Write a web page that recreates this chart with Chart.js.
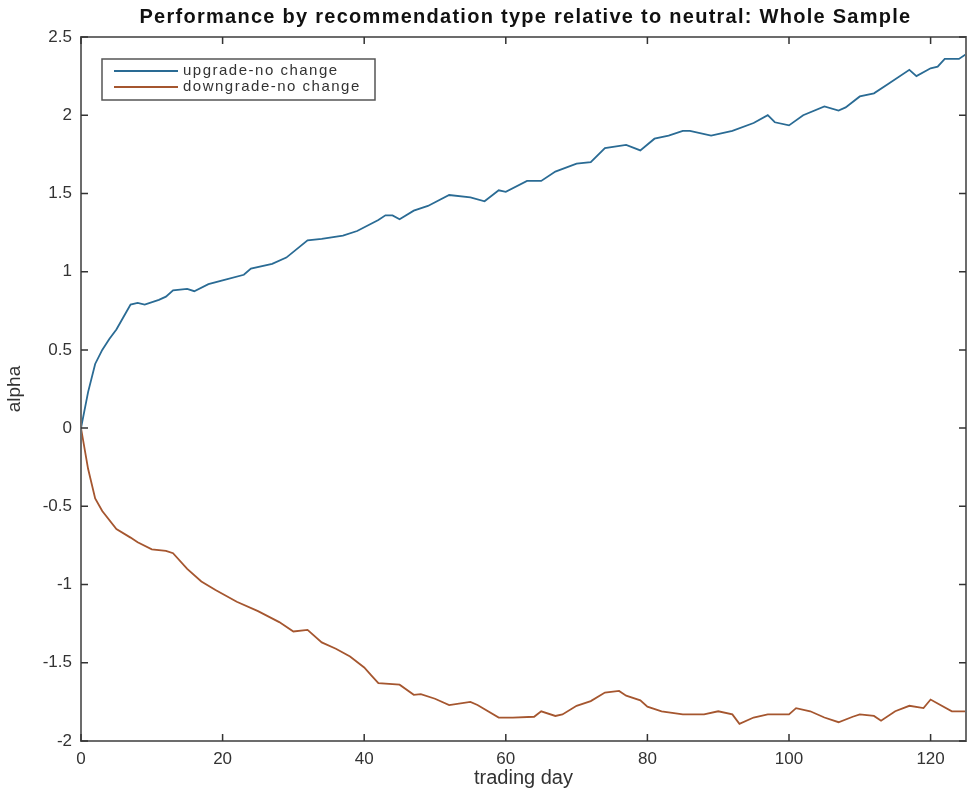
<!DOCTYPE html>
<html>
<head>
<meta charset="utf-8">
<script src="https://cdn.jsdelivr.net/npm/chart.js@4.4.1/dist/chart.umd.min.js"></script>
<style>
  html, body { margin: 0; padding: 0; background: #fff; }
</style>
</head>
<body>
<canvas id="chart" width="967" height="797"></canvas>
<script>
// values
const upDays = [0, 1, 2, 3, 4, 5, 6, 7, 8, 9, 11, 12, 13, 15, 16, 18, 20, 23, 24, 27, 29, 32, 34, 37, 39, 42, 43, 44, 45, 47, 49, 52, 55, 57, 59, 60, 63, 65, 67, 70, 72, 74, 77, 79, 81, 83, 85, 86, 89, 92, 95, 97, 98, 100, 102, 105, 107, 108, 110, 112, 114, 117, 118, 120, 121, 122, 124, 125];
const upAlpha = [0, 0.23, 0.41, 0.50, 0.57, 0.63, 0.71, 0.79, 0.80, 0.79, 0.82, 0.84, 0.88, 0.89, 0.875, 0.92, 0.945, 0.98, 1.02, 1.05, 1.09, 1.20, 1.21, 1.23, 1.26, 1.33, 1.36, 1.36, 1.335, 1.39, 1.42, 1.49, 1.475, 1.45, 1.52, 1.51, 1.58, 1.58, 1.64, 1.69, 1.70, 1.79, 1.81, 1.775, 1.85, 1.87, 1.90, 1.90, 1.87, 1.90, 1.95, 2.00, 1.955, 1.935, 2.00, 2.056, 2.03, 2.05, 2.12, 2.14, 2.20, 2.29, 2.25, 2.30, 2.31, 2.36, 2.36, 2.39];

const downDays = [0, 1, 2, 3, 5, 7, 8, 10, 12, 13, 15, 17, 19, 22, 25, 28, 30, 32, 34, 36, 38, 40, 41, 42, 45, 47, 48, 50, 52, 55, 56, 59, 61, 64, 65, 67, 68, 70, 72, 74, 76, 77, 79, 80, 82, 85, 88, 90, 92, 93, 95, 97, 100, 101, 103, 105, 107, 109, 110, 112, 113, 115, 117, 119, 120, 121, 123, 125];
const downAlpha = [0, -0.26, -0.45, -0.53, -0.645, -0.70, -0.73, -0.775, -0.785, -0.80, -0.90, -0.98, -1.035, -1.11, -1.17, -1.24, -1.30, -1.29, -1.37, -1.41, -1.46, -1.53, -1.58, -1.63, -1.64, -1.705, -1.70, -1.73, -1.77, -1.75, -1.77, -1.85, -1.85, -1.845, -1.81, -1.84, -1.83, -1.775, -1.745, -1.69, -1.68, -1.71, -1.74, -1.78, -1.81, -1.83, -1.83, -1.81, -1.83, -1.89, -1.85, -1.83, -1.83, -1.79, -1.81, -1.85, -1.88, -1.845, -1.83, -1.84, -1.87, -1.81, -1.775, -1.79, -1.735, -1.76, -1.81, -1.81];

const seriesNames = ['upgrade-no change', 'downgrade-no change'];
const xTicks = [0, 20, 40, 60, 80, 100, 120];
const yTicks = [-2, -1.5, -1, -0.5, 0, 0.5, 1, 1.5, 2, 2.5];
const chartTitle = 'Performance by recommendation type relative to neutral: Whole Sample';

const FONT = '"Liberation Sans", Arial, Helvetica, sans-serif';

function toPoints(xs, ys) {
    return xs.map((d, i) => ({ x: d, y: ys[i] }));
}

// title, box round the plot, inward ticks (matlab style) and the legend
const framePlugin = {
    id: 'frame',
    afterDatasetsDraw(chart) {
        const ctx = chart.ctx;
        const a = chart.chartArea;
        const xs = chart.scales.x, ys = chart.scales.y;
        ctx.save();
        ctx.strokeStyle = '#6c6c6c';
        ctx.lineWidth = 2;
        ctx.strokeRect(a.left, a.top, a.right - a.left, a.bottom - a.top);
        ctx.beginPath();
        xTicks.forEach(v => {
            const px = xs.getPixelForValue(v);
            ctx.moveTo(px, a.bottom); ctx.lineTo(px, a.bottom - 7);
            ctx.moveTo(px, a.top); ctx.lineTo(px, a.top + 7);
        });
        yTicks.forEach(v => {
            const py = ys.getPixelForValue(v);
            ctx.moveTo(a.left, py); ctx.lineTo(a.left + 7, py);
            ctx.moveTo(a.right, py); ctx.lineTo(a.right - 7, py);
        });
        ctx.strokeStyle = '#333';
        ctx.lineWidth = 1.5;
        ctx.stroke();

        // title, stretched a bit like the matlab render
        ctx.font = 'bold 20px ' + FONT;
        ctx.fillStyle = '#111';
        ctx.textAlign = 'center';
        ctx.textBaseline = 'middle';
        const w = ctx.measureText(chartTitle).width;
        ctx.letterSpacing = Math.max(0, (772 - w) / chartTitle.length) + 'px';
        ctx.fillText(chartTitle, (a.left + a.right) / 2 + 2, 17);
        ctx.letterSpacing = '0px';

        // legend
        const lx = a.left + 21, ly = a.top + 22;
        ctx.textAlign = 'left';
        ctx.fillStyle = '#fff';
        ctx.fillRect(lx, ly, 273, 41);
        ctx.strokeStyle = '#555';
        ctx.lineWidth = 1.5;
        ctx.strokeRect(lx, ly, 273, 41);
        ctx.font = '15px ' + FONT;
        ctx.letterSpacing = '1.5px';
        chart.data.datasets.forEach((ds, i) => {
            const yy = ly + 12 + i * 16;
            ctx.beginPath();
            ctx.strokeStyle = ds.borderColor;
            ctx.lineWidth = 2;
            ctx.moveTo(lx + 12, yy);
            ctx.lineTo(lx + 76, yy);
            ctx.stroke();
            ctx.fillStyle = '#333';
            ctx.fillText(ds.label, lx + 81, yy);
        });
        ctx.restore();
    }
};

new Chart(document.getElementById('chart'), {
    type: 'line',
    data: {
        datasets: [{
            label: seriesNames[0],
            data: toPoints(upDays, upAlpha),
            borderColor: '#2a6b94',
            borderWidth: 1.8,
            pointRadius: 0,
            tension: 0
        }, {
            label: seriesNames[1],
            data: toPoints(downDays, downAlpha),
            borderColor: '#a5562f',
            borderWidth: 1.8,
            pointRadius: 0,
            tension: 0
        }]
    },
    options: {
        responsive: false,
        devicePixelRatio: 1,
        animation: false,
        layout: { padding: { left: 0, right: 1, top: 37, bottom: 0 } },
        plugins: {
            legend: { display: false },
            tooltip: { enabled: false },
            title: { display: false }
        },
        scales: {
            x: {
                type: 'linear',
                min: 0,
                max: 125,
                afterBuildTicks: s => { s.ticks = xTicks.map(v => ({ value: v })); },
                afterFit: s => { s.height = 56; },
                grid: { display: false, drawTicks: false },
                border: { display: false },
                ticks: { color: '#333', font: { family: FONT, size: 17 }, padding: 8, maxRotation: 0 },
                title: { display: true, text: 'trading day', color: '#333', font: { family: FONT, size: 20 }, padding: { top: 0, bottom: 7 } }
            },
            y: {
                min: -2,
                max: 2.5,
                afterBuildTicks: s => { s.ticks = yTicks.map(v => ({ value: v })); },
                afterFit: s => { s.width = 81; },
                grid: { display: false, drawTicks: false },
                border: { display: false },
                ticks: { color: '#333', font: { family: FONT, size: 17 }, padding: 9, callback: v => String(v) },
                title: { display: true, text: 'alpha', color: '#333', font: { family: FONT, size: 19 }, padding: { top: 3, bottom: 0 } }
            }
        }
    },
    plugins: [framePlugin]
});
</script>
</body>
</html>
